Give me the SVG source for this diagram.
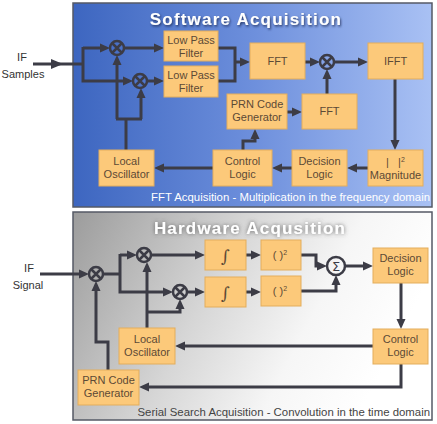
<svg xmlns="http://www.w3.org/2000/svg" width="437" height="424" viewBox="0 0 437 424">
<defs>
<linearGradient id="gBlue" x1="0" y1="0" x2="1" y2="0">
<stop offset="0" stop-color="#3d66c0"/>
<stop offset="0.5" stop-color="#6d8fdc"/>
<stop offset="1" stop-color="#a9c1f4"/>
</linearGradient>
<linearGradient id="gGray" x1="0" y1="0" x2="1" y2="0.3">
<stop offset="0" stop-color="#9c9c9c"/>
<stop offset="0.45" stop-color="#d6d6d6"/>
<stop offset="0.75" stop-color="#f6f6f6"/>
<stop offset="1" stop-color="#ffffff"/>
</linearGradient>
<filter id="sh1" x="-10%" y="-30%" width="120%" height="160%">
<feDropShadow dx="1" dy="1.5" stdDeviation="0.8" flood-color="#1a2550" flood-opacity="0.8"/>
</filter>
<filter id="sh2" x="-10%" y="-30%" width="120%" height="160%">
<feDropShadow dx="0" dy="0" stdDeviation="2" flood-color="#555" flood-opacity="0.9"/>
</filter>
<marker id="ah" markerUnits="userSpaceOnUse" markerWidth="10" markerHeight="10" refX="4" refY="5" orient="auto">
<path d="M0,0.5 L10,5 L0,9.5 z" fill="#3c3c46"/>
</marker>
</defs>
<style>
.panel{stroke:#555a66;stroke-width:1.5}
.box{fill:#fcc97a;stroke:#e3ad5c;stroke-width:1}
.bt{font-family:"Liberation Sans",Arial,sans-serif;font-size:11px;fill:#5c4a36;text-anchor:middle}
.ln{fill:none;stroke:#3c3c46;stroke-width:3}
.ar{marker-end:url(#ah)}
.mx{fill:none;stroke:#3c3c46;stroke-width:2.5}
.lbl{font-family:"Liberation Sans",Arial,sans-serif;font-size:11px;fill:#333;text-anchor:middle}
.ttl{font-family:"Liberation Sans",Arial,sans-serif;font-size:17px;font-weight:bold;fill:#fff;text-anchor:middle;letter-spacing:1.2px}
.ft{font-family:"Liberation Sans",Arial,sans-serif;font-size:11.4px;text-anchor:end}
</style>

<g id="panel-software">
<rect class="panel" x="73" y="3" width="359" height="204" fill="url(#gBlue)"/>
<text class="ttl" x="246" y="25" filter="url(#sh1)">Software Acquisition</text>
<text class="ft" x="430" y="201" fill="#ffffff">FFT Acquisition - Multiplication in the frequency domain</text>
</g>
<g id="panel-hardware">
<rect class="panel" x="73" y="212" width="359" height="208" fill="url(#gGray)"/>
<text class="ttl" x="250" y="234" filter="url(#sh2)">Hardware Acqusition</text>
<text class="ft" x="430" y="416" fill="#444">Serial Search Acquisition - Convolution in the time domain</text>
</g>

<g id="input-labels">
<text class="lbl" x="22" y="61">IF</text>
<text class="lbl" x="23" y="78">Samples</text>
<text class="lbl" x="29" y="272">IF</text>
<text class="lbl" x="28" y="289">Signal</text>
</g>

<g id="connectors">
<!-- software -->
<path class="ln" d="M33,64 H83"/>
<path d="M51,59 L63,64 L51,69 z" fill="#3c3c46"/>
<path class="ln ar" d="M83,48 H104"/>
<path class="ln ar" d="M83,47 V81 H127"/>
<path class="ln ar" d="M124,48 H158"/>
<path class="ln ar" d="M147,81 H158"/>
<path class="ln" d="M126,150 V119"/>
<path class="ln" d="M116,119 H142"/>
<path class="ln ar" d="M117,119 V61"/>
<path class="ln ar" d="M141,119 V94"/>
<path class="ln" d="M218,48 H235 V81 H218"/>
<path class="ln ar" d="M235,62 H244"/>
<path class="ln ar" d="M305,62 H314"/>
<path class="ln ar" d="M334,62 H362"/>
<path class="ln ar" d="M327,94 V75"/>
<path class="ln ar" d="M395,79 V144"/>
<path class="ln ar" d="M368,168 H353"/>
<path class="ln ar" d="M292,168 H278"/>
<path class="ln ar" d="M213,168 H160"/>
<path class="ln ar" d="M243,150 V141 H255 V135"/>
<path class="ln ar" d="M287,112 H296"/>
<!-- hardware -->
<path class="ln ar" d="M40,274 H83"/>
<path class="ln" d="M103,274 H120"/>
<path class="ln ar" d="M120,255 H131"/>
<path class="ln ar" d="M120,254 V292 H167"/>
<path class="ln ar" d="M151,255 H199"/>
<path class="ln ar" d="M187,292 H199"/>
<path class="ln ar" d="M246,255 H255"/>
<path class="ln ar" d="M246,292 H255"/>
<path class="ln ar" d="M301,255 H316 V266 H321"/>
<path class="ln ar" d="M301,291 H336 V281"/>
<path class="ln ar" d="M345,266 H367"/>
<path class="ln ar" d="M401,283 V323"/>
<path class="ln ar" d="M373,346 H181"/>
<path class="ln ar" d="M401,364 V387 H145"/>
<path class="ln ar" d="M147,328 V268"/>
<path class="ln ar" d="M147,312 H180 V305"/>
<path class="ln ar" d="M108,370 V342 H96 V287"/>
</g>

<g id="sw-mixer1"><circle class="mx" cx="117" cy="48" r="7"/><path class="mx" d="M112,43 L122,53 M122,43 L112,53" stroke-width="2"/></g>
<g id="sw-mixer2"><circle class="mx" cx="140" cy="81" r="7"/><path class="mx" d="M135,76 L145,86 M145,76 L135,86" stroke-width="2"/></g>
<g id="sw-mixer3"><circle class="mx" cx="327" cy="62" r="7"/><path class="mx" d="M322,57 L332,67 M332,57 L322,67" stroke-width="2"/></g>

<g id="sw-lpf1"><rect class="box" x="164" y="31" width="54" height="30"/><text class="bt" x="191" y="44">Low Pass</text><text class="bt" x="191" y="57">Filter</text></g>
<g id="sw-lpf2"><rect class="box" x="164" y="66" width="54" height="31"/><text class="bt" x="191" y="79">Low Pass</text><text class="bt" x="191" y="92">Filter</text></g>
<g id="sw-fft1"><rect class="box" x="250" y="43" width="55" height="36"/><text class="bt" x="277.5" y="65">FFT</text></g>
<g id="sw-ifft"><rect class="box" x="368" y="43" width="55" height="36"/><text class="bt" x="395.5" y="65">IFFT</text></g>
<g id="sw-prn"><rect class="box" x="227" y="94" width="60" height="35"/><text class="bt" x="257" y="108">PRN Code</text><text class="bt" x="257" y="121">Generator</text></g>
<g id="sw-fft2"><rect class="box" x="302" y="94" width="55" height="35"/><text class="bt" x="329.5" y="115">FFT</text></g>
<g id="sw-lo"><rect class="box" x="99" y="150" width="55" height="36"/><text class="bt" x="126.5" y="165">Local</text><text class="bt" x="126.5" y="178">Oscillator</text></g>
<g id="sw-control"><rect class="box" x="213" y="150" width="59" height="36"/><text class="bt" x="242.5" y="165">Control</text><text class="bt" x="242.5" y="178">Logic</text></g>
<g id="sw-decision"><rect class="box" x="292" y="150" width="55" height="36"/><text class="bt" x="319.5" y="165">Decision</text><text class="bt" x="319.5" y="178">Logic</text></g>
<g id="sw-magnitude"><rect class="box" x="368" y="150" width="55" height="36"/><text class="bt" x="395.5" y="166" xml:space="preserve">|   |<tspan font-size="7" dy="-4">2</tspan></text><text class="bt" x="395.5" y="179" font-size="9">Magnitude</text></g>

<g id="hw-mixer0"><circle class="mx" cx="96" cy="274" r="7"/><path class="mx" d="M91,269 L101,279 M101,269 L91,279" stroke-width="2"/></g>
<g id="hw-mixer1"><circle class="mx" cx="144" cy="255" r="7"/><path class="mx" d="M139,250 L149,260 M149,250 L139,260" stroke-width="2"/></g>
<g id="hw-mixer2"><circle class="mx" cx="180" cy="292" r="7"/><path class="mx" d="M175,287 L185,297 M185,287 L175,297" stroke-width="2"/></g>
<g id="hw-sum"><circle class="mx" cx="336" cy="266" r="9" fill="#f4f4f4"/><text x="336" y="271" font-family="'DejaVu Sans',sans-serif" font-size="13" fill="#3c3c46" text-anchor="middle">Σ</text></g>

<g id="hw-int1"><rect class="box" x="205" y="240" width="41" height="30"/><text x="225.5" y="262" font-family="'DejaVu Serif',serif" font-size="17" fill="#5c4a36" text-anchor="middle">∫</text></g>
<g id="hw-int2"><rect class="box" x="205" y="277" width="41" height="30"/><text x="225.5" y="299" font-family="'DejaVu Serif',serif" font-size="17" fill="#5c4a36" text-anchor="middle">∫</text></g>
<g id="hw-sq1"><rect class="box" x="261" y="240" width="40" height="30"/><text class="bt" x="280" y="259">( )<tspan font-size="7" dy="-4">2</tspan></text></g>
<g id="hw-sq2"><rect class="box" x="261" y="276" width="40" height="30"/><text class="bt" x="280" y="295">( )<tspan font-size="7" dy="-4">2</tspan></text></g>
<g id="hw-decision"><rect class="box" x="373" y="248" width="55" height="35"/><text class="bt" x="400.5" y="262">Decision</text><text class="bt" x="400.5" y="275">Logic</text></g>
<g id="hw-control"><rect class="box" x="373" y="329" width="55" height="35"/><text class="bt" x="400.5" y="343">Control</text><text class="bt" x="400.5" y="356">Logic</text></g>
<g id="hw-lo"><rect class="box" x="119" y="328" width="56" height="36"/><text class="bt" x="147" y="343">Local</text><text class="bt" x="147" y="356">Oscillator</text></g>
<g id="hw-prn"><rect class="box" x="78" y="370" width="61" height="35"/><text class="bt" x="108.5" y="384">PRN Code</text><text class="bt" x="108.5" y="397">Generator</text></g>
</svg>
